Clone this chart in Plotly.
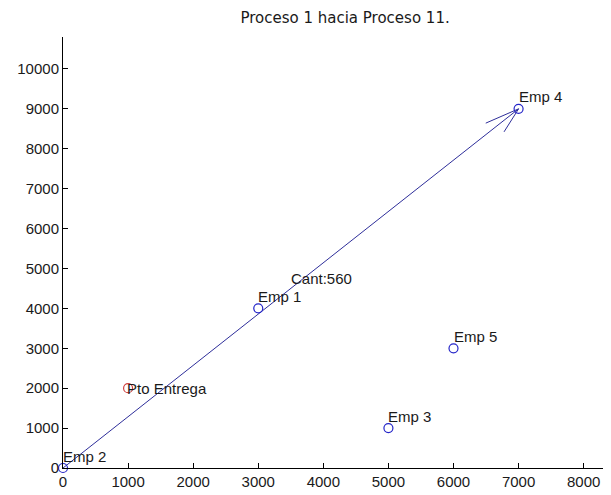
import numpy as np
import plotly.graph_objects as go

title = "Proceso 1 hacia Proceso 11."
emp_names = ["Emp 1", "Emp 2", "Emp 3", "Emp 4", "Emp 5"]
emp_x = [3000, 0, 5000, 7000, 6000]
emp_y = [4000, 0, 1000, 9000, 3000]
pto_name = ["Pto Entrega"]
pto_x = [1000]
pto_y = [2000]
route_from = "Emp 2"
route_to = "Emp 4"
cantidad = 560
x_ticks = list(range(0, 9000, 1000))
y_ticks = list(range(0, 11000, 1000))

FONT = "Liberation Sans, Arial, sans-serif"
TFONT = "DejaVu Sans, sans-serif"
FS = 15
LINE_C = "#2e2e9a"
MARK_C = "#2424c8"
TXT_C = "#1a1a1a"

i0 = emp_names.index(route_from)
i1 = emp_names.index(route_to)
x0, y0 = emp_x[i0], emp_y[i0]
x1, y1 = emp_x[i1], emp_y[i1]
u, v = x1 - x0, y1 - y0
alpha, beta = 0.052, 0.3
head_x = [x1 - alpha * (u + beta * v), x1, x1 - alpha * (u - beta * v)]
head_y = [y1 - alpha * (v - beta * u), y1, y1 - alpha * (v + beta * u)]

fig = go.Figure()
fig.add_trace(go.Scatter(x=[x0, x1], y=[y0, y1], mode="lines",
                         line=dict(color=LINE_C, width=1), cliponaxis=False,
                         hoverinfo="skip", showlegend=False))
fig.add_trace(go.Scatter(x=head_x, y=head_y, mode="lines",
                         line=dict(color=LINE_C, width=1), cliponaxis=False,
                         hoverinfo="skip", showlegend=False))
fig.add_trace(go.Scatter(x=emp_x, y=emp_y, mode="markers", text=emp_names,
                         marker=dict(symbol="circle-open", size=9,
                                     color=MARK_C, line=dict(width=1.2)),
                         cliponaxis=False, showlegend=False))
fig.add_trace(go.Scatter(x=pto_x, y=pto_y, mode="markers", text=pto_name,
                         marker=dict(symbol="circle-open", size=9,
                                     color="#d04040", line=dict(width=1.2)),
                         cliponaxis=False, showlegend=False))

annots = []
for n, x, y in zip(emp_names, emp_x, emp_y):
    annots.append(dict(x=x, y=y, text=n, showarrow=False, xanchor="left",
                       yanchor="middle", yshift=12, xshift=-2,
                       font=dict(family=FONT, size=FS, color=TXT_C)))
for n, x, y in zip(pto_name, pto_x, pto_y):
    annots.append(dict(x=x, y=y, text=n, showarrow=False, xanchor="left",
                       yanchor="middle", yshift=0, xshift=-3,
                       font=dict(family=FONT, size=FS, color=TXT_C)))
annots.append(dict(x=(x0 + x1) / 2, y=(y0 + y1) / 2, text=f"Cant:{cantidad}",
                   showarrow=False, xanchor="left", yanchor="middle",
                   yshift=10, xshift=-2,
                   font=dict(family=FONT, size=FS, color=TXT_C)))

fig.update_layout(
    width=603, height=487,
    margin=dict(l=55, r=0, t=29, b=27, autoexpand=False),
    paper_bgcolor="white", plot_bgcolor="white",
    title=dict(text=title, x=0.559, xanchor="center", y=0.99, yanchor="top",
               font=dict(family=TFONT, size=15, color=TXT_C)),
    annotations=annots,
    font=dict(family=FONT, size=FS, color=TXT_C),
)
fig.update_xaxes(range=[0, 8420], tickvals=x_ticks,
                 ticktext=[str(t) for t in x_ticks], ticks="inside", ticklen=5,
                 tickcolor="black", showline=True, linecolor="black", linewidth=1,
                 showgrid=False, zeroline=False,
                 tickfont=dict(family=FONT, size=FS, color=TXT_C))
fig.update_yaxes(range=[0, 10800], tickvals=y_ticks,
                 ticktext=[str(t) for t in y_ticks], ticks="inside", ticklen=5,
                 tickcolor="black", showline=True, linecolor="black", linewidth=1,
                 showgrid=False, zeroline=False,
                 tickfont=dict(family=FONT, size=FS, color=TXT_C))

fig.write_html("out.html")
